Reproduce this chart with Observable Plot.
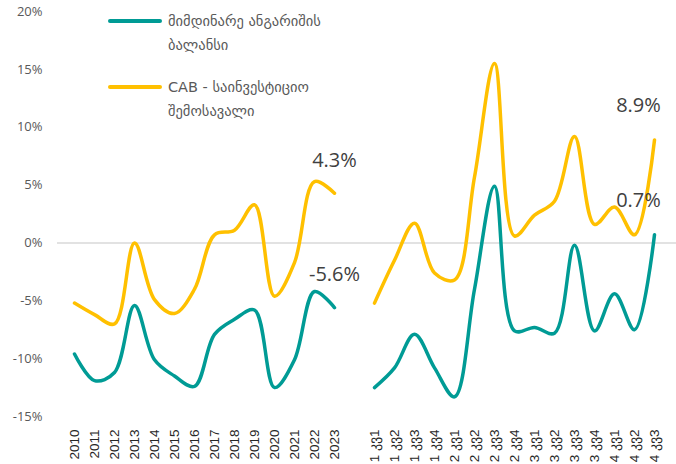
<!DOCTYPE html>
<html>
<head>
<meta charset="utf-8">
<script src="https://cdn.jsdelivr.net/npm/d3@7"></script>
<script src="https://cdn.jsdelivr.net/npm/@observablehq/plot@0.6"></script>
<style>
  html, body { margin: 0; padding: 0; background: #fff; }
  #wrap { position: relative; width: 676px; height: 464px; overflow: hidden; }
  #legend { position: absolute; left: 108px; top: 0; font-family: "DejaVu Sans", "Open Sans", sans-serif; font-size: 14.5px; color: #595959; }
  .item { position: absolute; left: 0; width: 300px; }
  .sw { position: absolute; left: 0; width: 54px; height: 4px; border-radius: 2px; }
  .lab { position: absolute; left: 60px; line-height: 24px; white-space: nowrap; }
</style>
</head>
<body>
<div id="wrap">
  <div id="chart"></div>
  <div id="legend"></div>
</div>
<script>
const years = ["2010","2011","2012","2013","2014","2015","2016","2017","2018","2019","2020","2021","2022","2023"];
const quarters = ["1 კვ1","1 კვ2","1 კვ3","1 კვ4","2 კვ1","2 კვ2","2 კვ3","2 კვ4","3 კვ1","3 კვ2","3 კვ3","3 კვ4","4 კვ1","4 კვ2","4 კვ3"];
const seriesNames = ["მიმდინარე ანგარიშის ბალანსი", "CAB - საინვესტიციო შემოსავალი"];
const seriesLines = [["მიმდინარე ანგარიშის", "ბალანსი"], ["CAB - საინვესტიციო", "შემოსავალი"]];
const seriesColors = ["#009b95", "#ffc000"];
const currentAnnual = [-9.6,-11.9,-11.2,-5.4,-10.1,-11.5,-12.4,-7.9,-6.6,-5.8,-12.5,-10.1,-4.2,-5.6];
const investAnnual  = [-5.2,-6.2,-7.0,0.0,-4.9,-6.1,-4.0,0.7,1.1,3.3,-4.6,-1.7,5.3,4.3];
const currentQ = [-12.5,-10.8,-7.9,-10.8,-13.3,-4.0,4.9,-7.6,-7.3,-7.8,-0.2,-7.6,-4.4,-7.5,0.7];
const investQ  = [-5.2,-1.5,1.7,-2.6,-3.2,5.7,15.5,0.6,2.4,3.6,9.2,1.6,3.1,0.7,8.9];
const yTicks = [-15,-10,-5,0,5,10,15,20];
const GAP = "gap";

const rows = [];
function add(labels, values, s, seg) {
  labels.forEach((x, i) => rows.push({x, y: values[i], s, seg, last: i === labels.length - 1, key: s + "-" + seg}));
}
add(years, currentAnnual, 0, "a");
add(years, investAnnual, 1, "a");
add(quarters, currentQ, 0, "q");
add(quarters, investQ, 1, "q");

const labelA = rows.filter(d => d.last && d.seg === "a");
const labelQ = rows.filter(d => d.last && d.seg === "q");
const fmt = d => d.y.toFixed(1) + "%";

const chart = Plot.plot({
  width: 676,
  height: 464,
  marginLeft: 57,
  marginRight: 0,
  marginTop: 11,
  marginBottom: 48,
  style: { background: "#fff", overflow: "visible" },
  x: { type: "point", domain: [...years, GAP, ...quarters], range: [57, 670], padding: 0.5, label: null },
  y: { domain: [-15, 20], label: null },
  marks: [
    Plot.ruleY([0], { stroke: "#d9d9d9", strokeWidth: 1.5 }),
    Plot.axisY({ ticks: yTicks, tickSize: 0, tickPadding: 15, tickFormat: d => d + "%", fontSize: 13, fontFamily: "Open Sans", color: "#595959", label: null }),
    Plot.axisX({ tickRotate: -90, tickSize: 0, tickPadding: 13, tickFormat: d => d === GAP ? "" : d, fontSize: 13.5, fontFamily: "Liberation Sans", color: "#262626", label: null }),
    Plot.line(rows, { x: "x", y: "y", z: "key", stroke: d => seriesColors[d.s], strokeWidth: 3.5, curve: "catmull-rom" }),
    Plot.text(labelA, { x: "x", y: "y", text: fmt, dy: -33, fontSize: 20, fontFamily: "Open Sans", fill: "#404040" }),
    Plot.text(labelQ, { x: "x", y: "y", text: fmt, dy: -34, dx: -16, fontSize: 20, fontFamily: "Open Sans", fill: "#404040" })
  ]
});
document.getElementById("chart").appendChild(chart);

const legend = document.getElementById("legend");
const tops = [9, 75];
seriesLines.forEach((lines, i) => {
  const item = document.createElement("div");
  item.className = "item";
  item.style.top = tops[i] + "px";
  item.innerHTML = `<div class="sw" style="top:${10}px;background:${seriesColors[i]}"></div><div class="lab" style="top:0">${lines[0]}<br>${lines[1]}</div>`;
  legend.appendChild(item);
});
</script>
</body>
</html>
